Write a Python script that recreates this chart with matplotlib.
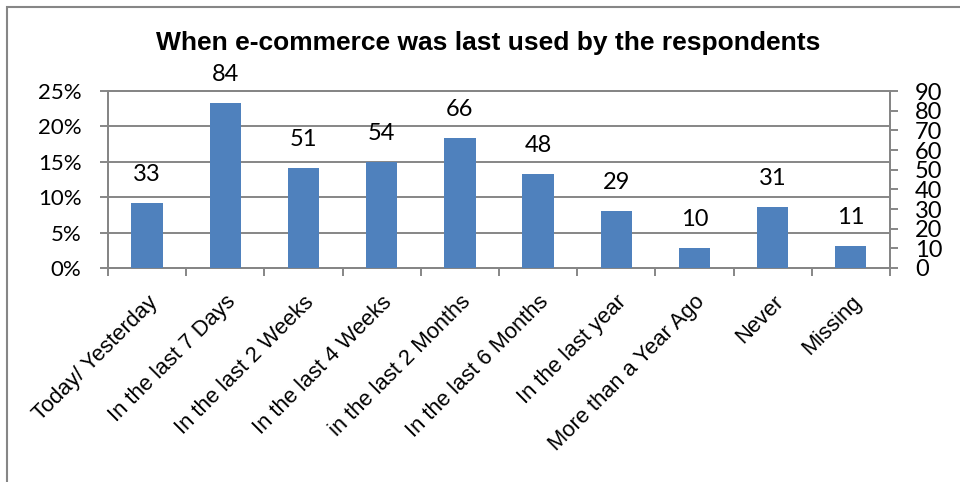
import matplotlib
matplotlib.use("Agg")
import matplotlib.pyplot as plt
from matplotlib.patches import Rectangle

# survey answers: when e-commerce was last used
categories = ["Today/ Yesterday", "In the last 7 Days", "In the last 2 Weeks",
              "In the last 4 Weeks", "in the last 2 Months", "In the last 6 Months",
              "In the last year", "More than a Year Ago", "Never", "Missing"]
counts = [33, 84, 51, 54, 66, 48, 29, 10, 31, 11]
pct_ticks = [0, 0.05, 0.10, 0.15, 0.20, 0.25]
pct_labels = ["0%", "5%", "10%", "15%", "20%", "25%"]
count_ticks = [0, 10, 20, 30, 40, 50, 60, 70, 80, 90]

num_font = "Lato"
txt_font = "Liberation Sans"
grey = "#868686"
bar_color = "#4F81BD"

fig = plt.figure(figsize=(9.6, 4.82), dpi=100)
ax = fig.add_axes([0.1125, 0.444, 0.8145, 0.367])
ax2 = ax.twinx()

# outer chart frame (right/bottom edges run off the image)
fig.patches.append(Rectangle((7 / 960, -0.1), 1.2, (482 - 7) / 482 + 0.1,
                             transform=fig.transFigure, fill=False,
                             edgecolor=grey, linewidth=1.5))

x = list(range(len(categories)))
ax2.bar(x, counts, width=0.4, color=bar_color, zorder=3)
for xi, c in zip(x, counts):
    ax2.annotate(str(c), (xi, c), xytext=(0, 13), textcoords="offset points",
                 ha="center", va="bottom", fontsize=17, family=num_font)

ax.set_xlim(-0.5, len(categories) - 0.5)
ax.set_ylim(0, 0.25)
ax.set_yticks(pct_ticks)
ax.set_yticklabels(pct_labels, family=num_font, fontsize=16)
ax.yaxis.grid(True, color=grey, linewidth=1.4)
ax.set_axisbelow(True)

ax2.set_ylim(0, 90)
ax2.set_yticks(count_ticks)
ax2.set_yticklabels([str(t) for t in count_ticks], family=num_font, fontsize=17)

# category ticks on the boundaries, labels at the centres
ax.set_xticks([i - 0.5 for i in range(len(categories) + 1)])
ax.set_xticklabels([])
ax.set_xticks(x, minor=True)
ax.set_xticklabels(categories, minor=True, rotation=45, ha="right",
                   rotation_mode="anchor", family=txt_font, fontsize=15.8)
ax.tick_params(axis="x", which="minor", length=0, pad=17)
ax.tick_params(axis="x", which="major", length=6, color=grey, width=1.4)
ax.tick_params(axis="y", length=6, color=grey, width=1.4, pad=13)
ax2.tick_params(axis="y", length=6, color=grey, width=1.4, pad=12)

for a in (ax, ax2):
    for s in a.spines.values():
        s.set_color(grey)
        s.set_linewidth(1.4)

fig.text(0.509, 0.91, "When e-commerce was last used by the respondents",
         ha="center", va="center", fontsize=19, fontweight="bold", family=txt_font)

fig.savefig("out.png", dpi=100)
